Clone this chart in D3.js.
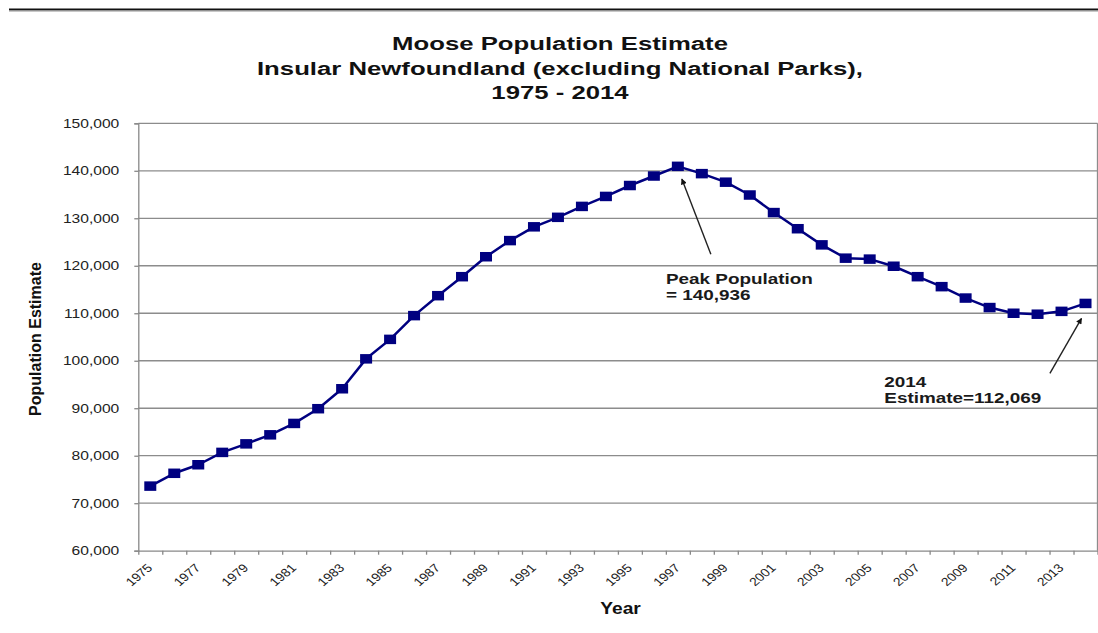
<!DOCTYPE html>
<html>
<head>
<meta charset="utf-8">
<script src="https://cdn.jsdelivr.net/npm/d3@7"></script>
<style>
  html, body { margin: 0; padding: 0; background: #fff; }
  svg { display: block; }
  text { font-family: "Liberation Sans", Arial, sans-serif; }
</style>
</head>
<body>
<svg id="chart" width="1098" height="633"></svg>
<script>
// Moose population estimates, insular Newfoundland, 1975-2014
const years = d3.range(1975, 2015);
const population = [
  73600, 76300, 78100, 80700, 82500, 84400, 86800, 89900, 94100, 100400,
  104500, 109500, 113700, 117700, 121900, 125300, 128200, 130200, 132500, 134600,
  136900, 138900, 140936, 139400, 137600, 134900, 131200, 127800, 124400, 121600,
  121400, 119900, 117700, 115600, 113200, 111200, 110000, 109800, 110400, 112069
];
const yTicks = d3.range(60000, 150001, 10000);
const xLabelYears = years.filter(y => (y - 1975) % 2 === 0);
const titleLines = [
  "Moose Population Estimate",
  "Insular Newfoundland (excluding National Parks),",
  "1975 - 2014"
];
const peakYear = 1997, peakValue = 140936;
const lastYear = 2014, lastValue = 112069;

const svg = d3.select("#chart");
const plot = { left: 138.3, right: 1097.5, top: 123.3, bottom: 550.7 };

const x = d3.scaleLinear().domain([1974.5, 2014.5]).range([plot.left, plot.right]);
const y = d3.scaleLinear().domain([60000, 150000]).range([plot.bottom, plot.top]);

// separator rule across the top of the page
svg.append("line").attr("x1", 9).attr("x2", 1098).attr("y1", 9.5).attr("y2", 9.5)
  .attr("stroke", "#111").attr("stroke-width", 2);
svg.append("line").attr("x1", 9).attr("x2", 1098).attr("y1", 11.3).attr("y2", 11.3)
  .attr("stroke", "#bbb").attr("stroke-width", 1);

// title (text is drawn wide, as in the source layout)
const title = svg.append("g");
titleLines.forEach((t, i) => {
  title.append("text")
    .attr("transform", `translate(560,${50 + i * 24.5}) scale(1.47,1)`)
    .attr("text-anchor", "middle")
    .attr("font-size", 17.5).attr("font-weight", "bold").attr("fill", "#111")
    .text(t);
});

// horizontal gridlines
svg.append("g").selectAll("line").data(yTicks.filter(v => v > 60000)).join("line")
  .attr("x1", plot.left).attr("x2", plot.right)
  .attr("y1", d => y(d)).attr("y2", d => y(d))
  .attr("stroke", "#8c8c8c").attr("stroke-width", 1.3);

// right border of plot area
svg.append("line").attr("x1", plot.right).attr("x2", plot.right)
  .attr("y1", plot.top).attr("y2", plot.bottom)
  .attr("stroke", "#8c8c8c").attr("stroke-width", 1.3);

// y axis
const yAxis = svg.append("g").attr("transform", `translate(${plot.left},0)`)
  .call(d3.axisLeft(y).tickValues(yTicks).tickSize(4).tickFormat(""));
yAxis.select(".domain").attr("stroke", "#888").attr("stroke-width", 1.3);
yAxis.selectAll(".tick line").attr("stroke", "#888").attr("stroke-width", 1.3);

svg.append("g").selectAll("text").data(yTicks).join("text")
  .attr("transform", d => `translate(119.3,${y(d) + 4.5}) scale(1.25,1)`)
  .attr("text-anchor", "end").attr("font-size", 12.5).attr("fill", "#222")
  .text(d => d3.format(",")(d));

// x axis with ticks on category boundaries
const boundaries = d3.range(1974.5, 2015, 1);
const xAxis = svg.append("g").attr("transform", `translate(0,${plot.bottom})`)
  .call(d3.axisBottom(x).tickValues(boundaries).tickSize(4).tickSizeOuter(0).tickFormat(""));
xAxis.select(".domain").attr("stroke", "#888").attr("stroke-width", 1.3);
xAxis.selectAll(".tick line").attr("stroke", "#888").attr("stroke-width", 1.3);

svg.append("g").selectAll("text").data(xLabelYears).join("text")
  .attr("transform", d => `translate(${x(d) + 3},568.6) scale(1.2,1) rotate(-45)`)
  .attr("text-anchor", "end").attr("font-size", 11.6).attr("fill", "#222")
  .text(d => d);

// axis titles
svg.append("text")
  .attr("transform", "translate(40.6,339) rotate(-90)")
  .attr("text-anchor", "middle").attr("font-size", 16).attr("font-weight", "bold").attr("fill", "#111")
  .text("Population Estimate");
svg.append("text")
  .attr("transform", "translate(620.5,614) scale(1.2,1)")
  .attr("text-anchor", "middle").attr("font-size", 16).attr("font-weight", "bold").attr("fill", "#111")
  .text("Year");

// population line and square markers
const navy = "#000080";
const line = d3.line().x((d, i) => x(years[i])).y(d => y(d));
svg.append("path").datum(population)
  .attr("d", line).attr("fill", "none").attr("stroke", navy).attr("stroke-width", 2.5)
  .attr("stroke-linejoin", "round");

const mw = 12, mh = 9.5;
svg.append("g").selectAll("rect").data(population).join("rect")
  .attr("x", (d, i) => x(years[i]) - mw / 2)
  .attr("y", d => y(d) - mh / 2)
  .attr("width", mw).attr("height", mh)
  .attr("fill", navy);

// annotation arrows
svg.append("defs").append("marker")
  .attr("id", "head").attr("viewBox", "0 0 10 10").attr("refX", 9).attr("refY", 5)
  .attr("markerWidth", 7).attr("markerHeight", 6).attr("markerUnits", "userSpaceOnUse")
  .attr("orient", "auto")
  .append("path").attr("d", "M0,0 L10,5 L0,10 Z").attr("fill", "#111");

function arrow(px, py, dx0, dy0, dx1, dy1) {
  svg.append("line")
    .attr("x1", px + dx0).attr("y1", py + dy0)
    .attr("x2", px + dx1).attr("y2", py + dy1)
    .attr("stroke", "#222").attr("stroke-width", 1.4)
    .attr("marker-end", "url(#head)");
}
arrow(x(peakYear), y(peakValue), 33, 88, 4, 12.6);
arrow(x(lastYear), y(lastValue), -35.6, 70, -4, 15);

function note(lines, x0, y0) {
  lines.forEach((t, i) => {
    svg.append("text")
      .attr("transform", `translate(${x0},${y0 + i * 16.2}) scale(1.22,1)`)
      .attr("font-size", 15.5).attr("font-weight", "bold").attr("fill", "#1a1a1a")
      .text(t);
  });
}
note(["Peak Population", "= " + d3.format(",")(peakValue)], 666, 283.5);
note([String(lastYear), "Estimate=" + d3.format(",")(lastValue)], 884.3, 386.7);
</script>
</body>
</html>
